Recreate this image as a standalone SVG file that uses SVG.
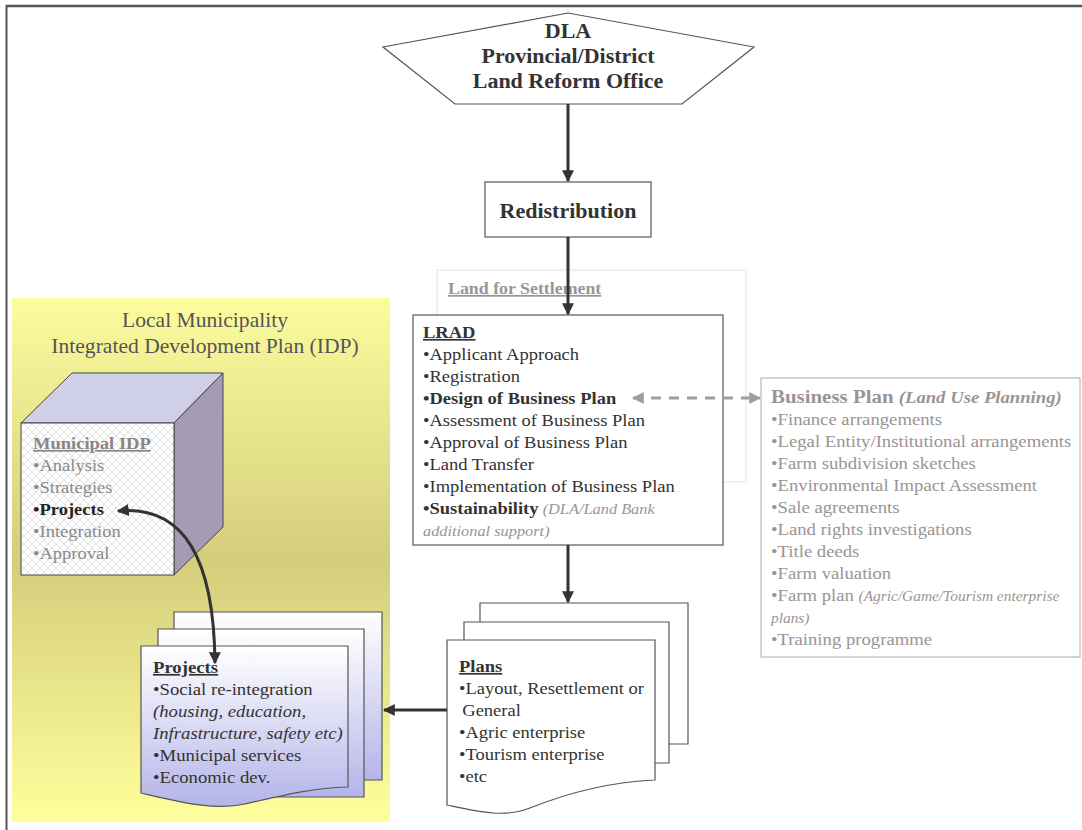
<svg xmlns="http://www.w3.org/2000/svg" width="1082" height="830" viewBox="0 0 1082 830">
<style>
text{font-family:"Liberation Serif","Times New Roman",serif;}
.t{font-size:17px;fill:#333;}
.b{font-weight:bold;}
.u{text-decoration:underline;}
.g{fill:#9a9595;}
.it{font-style:italic;}
.big{font-size:20px;font-weight:bold;fill:#333;}
.box{fill:#fff;stroke:#555;stroke-width:1.2;}
.con{stroke:#333;stroke-width:3;fill:none;}
</style>
<defs>
<linearGradient id="yel" x1="0" y1="0" x2="0" y2="1">
<stop offset="0" stop-color="#fcfc9e"/>
<stop offset="0.5" stop-color="#d4cd7c"/>
<stop offset="1" stop-color="#ffff9c"/>
</linearGradient>
<linearGradient id="lav" x1="0" y1="0" x2="0" y2="1">
<stop offset="0" stop-color="#ffffff"/>
<stop offset="1" stop-color="#b4b4ea"/>
</linearGradient>
<pattern id="hatch" width="8" height="8" patternUnits="userSpaceOnUse">
<rect width="8" height="8" fill="#fff"/>
<path d="M0,0 L8,8 M8,0 L0,8" stroke="#d8d8d8" stroke-width="0.8"/>
</pattern>
<marker id="ah" viewBox="0 0 10 10" refX="9" refY="5" markerWidth="4" markerHeight="4" orient="auto-start-reverse">
<path d="M0,0 L10,5 L0,10 z" fill="#333"/>
</marker>
<marker id="ahg" viewBox="0 0 10 10" refX="9" refY="5" markerWidth="4" markerHeight="4" orient="auto-start-reverse">
<path d="M0,0 L10,5 L0,10 z" fill="#a39d9d"/>
</marker>
</defs>
<rect width="1082" height="830" fill="#fff"/>
<g id="frame">
<line x1="6" y1="6" x2="1082" y2="6" stroke="#555" stroke-width="2.5"/>
<line x1="6.5" y1="5" x2="6.5" y2="830" stroke="#555" stroke-width="2"/>
</g>
<g id="municipality">
<rect x="12" y="298" width="378" height="524" fill="url(#yel)"/>
<g transform="translate(205,0) scale(1.08,1)">
<text x="0" y="327" text-anchor="middle" style="font-size:20px;fill:#555">Local Municipality</text>
<text x="0" y="353" text-anchor="middle" style="font-size:20px;fill:#555">Integrated Development Plan (IDP)</text>
</g>
</g>
<g id="municipal-idp">
<polygon points="21,423 72,373 223,373 174,423" fill="#cfd0e8" stroke="#444" stroke-width="1"/>
<polygon points="174,423 223,373 223,527 174,575" fill="#a59bb5" stroke="#444" stroke-width="1"/>
<rect x="21" y="423" width="153" height="152" fill="url(#hatch)" stroke="#444" stroke-width="1"/>
<g transform="translate(33,0) scale(1.09,1)">
<text x="0" y="449" class="t b u" style="fill:#8a8585">Municipal IDP</text>
<text x="0" y="471" class="t" style="fill:#8a8a8a">•Analysis</text>
<text x="0" y="493" class="t" style="fill:#8a8a8a">•Strategies</text>
<text x="0" y="515" class="t b" style="fill:#222">•Projects</text>
<text x="0" y="537" class="t" style="fill:#8a8a8a">•Integration</text>
<text x="0" y="559" class="t" style="fill:#8a8a8a">•Approval</text>
</g>
</g>
<g id="dla">
<polygon points="568,13 383,47 455,104 682,104 754,47" fill="#fff" stroke="#555" stroke-width="1.2"/>
<g transform="translate(568,0) scale(1.1,1)">
<text x="0" y="38" text-anchor="middle" class="big">DLA</text>
<text x="0" y="63" text-anchor="middle" class="big">Provincial/District</text>
<text x="0" y="88" text-anchor="middle" class="big">Land Reform Office</text>
</g>
</g>
<g id="redistribution">
<rect x="485" y="182" width="166" height="55" class="box"/>
<text x="0" y="218" text-anchor="middle" class="big" transform="translate(568,0) scale(1.1,1)">Redistribution</text>
</g>
<g id="land-for-settlement">
<rect x="437" y="270" width="309" height="212" fill="none" stroke="#e0e0e0" stroke-width="1"/>
<text x="0" y="294" class="b u" style="font-size:17px;fill:#9a9595" transform="translate(448,0) scale(1.05,1)">Land for Settlement</text>
</g>
<g id="lrad">
<rect x="413" y="315" width="310" height="230" class="box" fill-opacity="0.85"/>
<g transform="translate(423,0) scale(1.09,1)">
<text x="0" y="338" class="t b u">LRAD</text>
<text x="0" y="360" class="t">•Applicant Approach</text>
<text x="0" y="382" class="t">•Registration</text>
<text x="0" y="404" class="t b">•Design of Business Plan</text>
<text x="0" y="426" class="t">•Assessment of Business Plan</text>
<text x="0" y="448" class="t">•Approval of Business Plan</text>
<text x="0" y="470" class="t">•Land Transfer</text>
<text x="0" y="492" class="t">•Implementation of Business Plan</text>
<text x="0" y="514" class="t"><tspan class="b">•Sustainability</tspan><tspan class="it g" style="font-size:15px"> (DLA/Land Bank</tspan></text>
<text x="0" y="536" class="t it g" style="font-size:15px">additional support)</text>
</g>
</g>
<g id="business-plan">
<rect x="761" y="378" width="319" height="279" fill="#fff" stroke="#aaa" stroke-width="1"/>
<g transform="translate(771,0) scale(1.1,1)">
<text x="0" y="403" class="g" style="font-size:19px"><tspan class="b">Business Plan </tspan><tspan class="b it" style="font-size:17px">(Land Use Planning)</tspan></text>
<text x="0" y="425" class="t g">•Finance arrangements</text>
<text x="0" y="447" class="t g">•Legal Entity/Institutional arrangements</text>
<text x="0" y="469" class="t g">•Farm subdivision sketches</text>
<text x="0" y="491" class="t g">•Environmental Impact Assessment</text>
<text x="0" y="513" class="t g">•Sale agreements</text>
<text x="0" y="535" class="t g">•Land rights investigations</text>
<text x="0" y="557" class="t g">•Title deeds</text>
<text x="0" y="579" class="t g">•Farm valuation</text>
<text x="0" y="601" class="t g">•Farm plan <tspan class="it" style="font-size:14px">(Agric/Game/Tourism enterprise</tspan></text>
<text x="0" y="623" class="t g it" style="font-size:14px">plans)</text>
<text x="0" y="645" class="t g">•Training programme</text>
</g>
</g>
<g id="plans">
<path d="M480,603 H688 V744 H480 Z" class="box"/>
<path d="M464,622 H669 V763 H464 Z" class="box"/>
<path d="M447,640 H655 V780 C610,782 570,792 530,808 C505,818 480,812 447,805 Z" class="box"/>
<g transform="translate(459,0) scale(1.09,1)">
<text x="0" y="672" class="t b u">Plans</text>
<text x="0" y="694" class="t">•Layout, Resettlement or</text>
<text x="3" y="716" class="t">General</text>
<text x="0" y="738" class="t">•Agric enterprise</text>
<text x="0" y="760" class="t">•Tourism enterprise</text>
<text x="0" y="782" class="t">•etc</text>
</g>
</g>
<g id="projects">
<path d="M174,612 H382 V780 H174 Z" fill="url(#lav)" stroke="#555" stroke-width="1.2"/>
<path d="M158,629 H364 V797 H158 Z" fill="url(#lav)" stroke="#555" stroke-width="1.2"/>
<path d="M141,646 H348 V787 C310,788 280,796 245,804 C215,811 180,802 141,793 Z" fill="url(#lav)" stroke="#555" stroke-width="1.2"/>
<g transform="translate(153,0) scale(1.1,1)">
<text x="0" y="673" class="t b u">Projects</text>
<text x="0" y="695" class="t">•Social re-integration</text>
<text x="0" y="717" class="t it">(housing, education,</text>
<text x="0" y="739" class="t it">Infrastructure, safety etc)</text>
<text x="0" y="761" class="t">•Municipal services</text>
<text x="0" y="783" class="t">•Economic dev.</text>
</g>
</g>
<g id="connectors">
<line x1="568" y1="104" x2="568" y2="181" class="con" marker-end="url(#ah)"/>
<line x1="568" y1="237" x2="568" y2="314" class="con" marker-end="url(#ah)"/>
<line x1="568" y1="545" x2="568" y2="602" class="con" marker-end="url(#ah)"/>
<line x1="447" y1="710" x2="384" y2="710" class="con" marker-end="url(#ah)"/>
<line x1="633" y1="398" x2="760" y2="398" stroke="#a39d9d" stroke-width="3" stroke-dasharray="10,8" marker-start="url(#ahg)" marker-end="url(#ahg)"/>
<path d="M118,511 C185,505 214,560 215,663" class="con" marker-start="url(#ah)" marker-end="url(#ah)"/>
</g>
</svg>
